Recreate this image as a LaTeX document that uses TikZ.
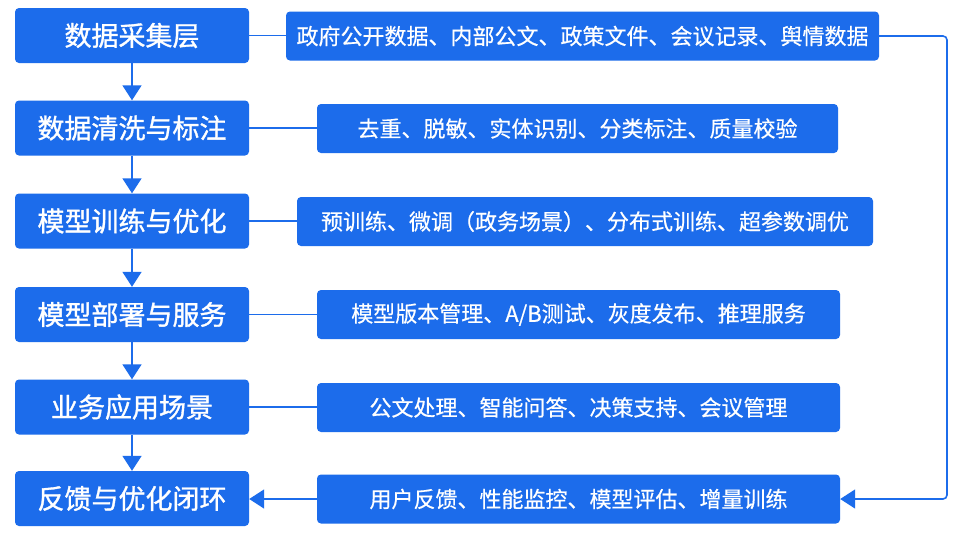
\documentclass[tikz,border=0pt]{standalone}
\usepackage{fontspec}
\setmainfont{Noto Sans CJK SC}
\newfontfamily\stagefont{Noto Sans CJK SC}[FakeBold=1.2]
\newfontfamily\detailfont{Noto Sans CJK SC}[FakeBold=0.5]
\usetikzlibrary{arrows.meta}
\definecolor{mainblue}{HTML}{1C6CEB}
\tikzset{
  stagebox/.style={fill=mainblue, rounded corners=4pt, minimum width=234pt, minimum height=55pt, inner sep=0pt, text=white, font=\stagefont\fontsize{27}{31}\selectfont},
  detailbox/.style={fill=mainblue, rounded corners=4pt, minimum height=49pt, inner sep=0pt, text=white, font=\detailfont\fontsize{22}{26}\selectfont},
  link/.style={draw=mainblue, line width=1.6pt},
  flow/.style={draw=mainblue, line width=1.6pt, -{Triangle[width=19pt,length=15pt]}},
}
\begin{document}
\begin{tikzpicture}[x=1pt,y=-1pt]
\fill[white] (0,0) rectangle (968,541);
\useasboundingbox (0,0) rectangle (968,541);
% left stages
\node[stagebox] (s1) at (132,35.5) {数据采集层};
\node[stagebox] (s2) at (132,128) {数据清洗与标注};
\node[stagebox] (s3) at (132,221) {模型训练与优化};
\node[stagebox] (s4) at (132,314.5) {模型部署与服务};
\node[stagebox] (s5) at (132,407) {业务应用场景};
\node[stagebox] (s6) at (132,498.5) {反馈与优化闭环};
% right details
\node[detailbox, minimum width=593pt] (d1) at (582.5,36) {政府公开数据、内部公文、政策文件、会议记录、舆情数据};
\node[detailbox, minimum width=521pt] (d2) at (577.5,128.5) {去重、脱敏、实体识别、分类标注、质量校验};
\node[detailbox, minimum width=576pt] (d3) at (585,221.5) {预训练、微调（政务场景）、分布式训练、超参数调优};
\node[detailbox, minimum width=523pt] (d4) at (578.5,314.5) {模型版本管理、A/B测试、灰度发布、推理服务};
\node[detailbox, minimum width=523pt] (d5) at (578.5,407.5) {公文处理、智能问答、决策支持、会议管理};
\node[detailbox, minimum width=523pt] (d6) at (578.5,499) {用户反馈、性能监控、模型评估、增量训练};
% vertical flow
\draw[flow] (s1) -- (s2);
\draw[flow] (s2) -- (s3);
\draw[flow] (s3) -- (s4);
\draw[flow] (s4) -- (s5);
\draw[flow] (s5) -- (s6);
% links
\draw[link] (s1.east) -- (s1.east -| d1.west);
\draw[link] (s2.east) -- (s2.east -| d2.west);
\draw[link] (s3.east) -- (s3.east -| d3.west);
\draw[link] (s4.east) -- (s4.east -| d4.west);
\draw[link] (s5.east) -- (s5.east -| d5.west);
% feedback loop
\coordinate (lp) at (947,0);
\draw[flow, rounded corners=4pt] (d1.east) -- (d1.east -| lp) -- (d6.east -| lp) -- (d6.east);
\draw[flow] (d6.west) -- (d6.west -| s6.east);
\end{tikzpicture}
\end{document}
